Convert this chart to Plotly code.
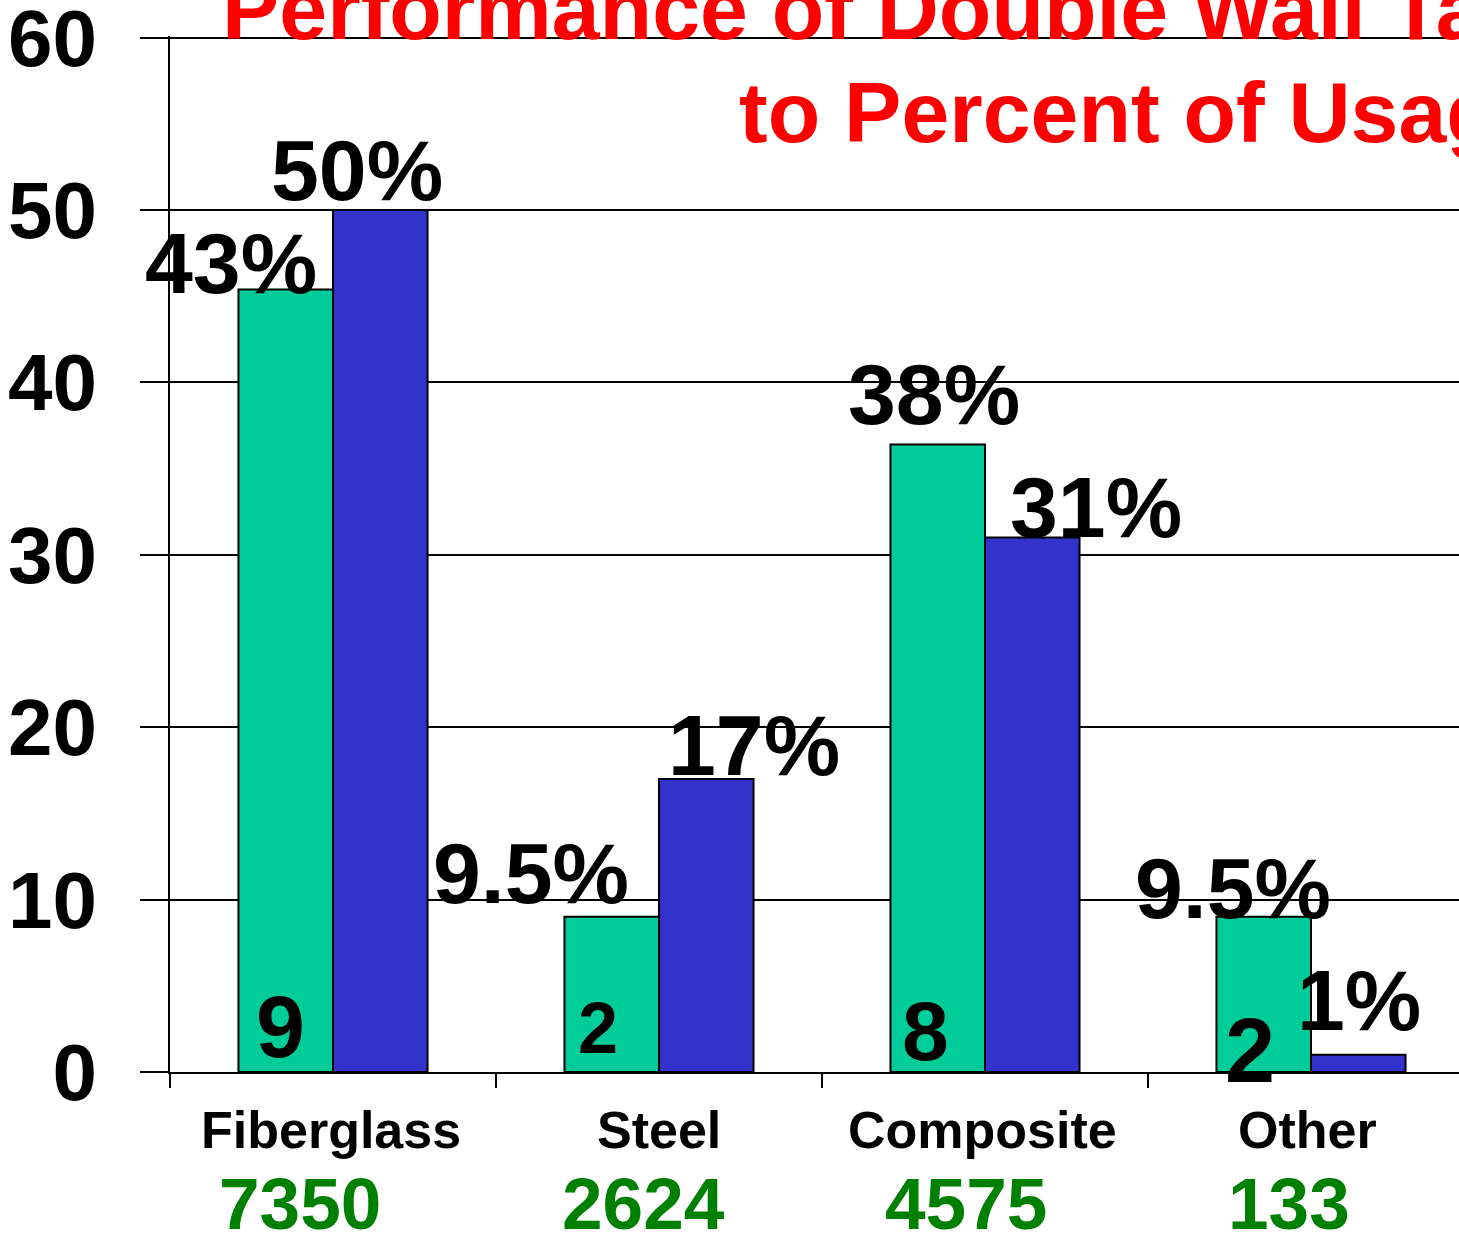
import plotly.graph_objects as go

# ---------------- data ----------------
categories = ["Fiberglass", "Steel", "Composite", "Other"]
usage_counts = ["7350", "2624", "4575", "133"]
usage_pct = [45.4, 9.0, 36.4, 9.0]            # green bars
usage_labels = ["43%", "9.5%", "38%", "9.5%"]
perf_pct = [50.0, 17.0, 31.0, 1.0]            # blue bars
perf_labels = ["50%", "17%", "31%", "1%"]
inside_counts = ["9", "2", "8", "2"]
y_ticks = [0, 10, 20, 30, 40, 50, 60]
title_lines = ["Performance of Double Wall Tanks Relative", "to Percent of Usage"]

# ---------------- style / layout ----------------
FONT = "Liberation Sans, Arial, Helvetica, sans-serif"
GREEN = "#00CC99"
BLUE = "#3333CC"
W, H = 1459, 1234
L, T, B = 170, 36, 162
plot_w = W - L
plot_h = H - T - B
cat_px = 326.0
x_range = [-0.5, -0.5 + plot_w / cat_px]
y_range = [0, 60.1]

fig = go.Figure()
fig.add_trace(go.Bar(x=categories, y=usage_pct, name="Percent of Usage",
                     marker=dict(color=GREEN, line=dict(color="black", width=2))))
fig.add_trace(go.Bar(x=categories, y=perf_pct, name="Percent of Performance",
                     marker=dict(color=BLUE, line=dict(color="black", width=2))))

ann = []
half = 0.145
# label offsets (dx, dy, size) for green, blue and inside labels
g_off = [(-0.168, 1.55, 86), (-0.248, 2.55, 86), (-0.011, 2.95, 86), (-0.094, 1.7, 86)]
b_off = [(-0.071, 2.3, 86), (0.146, 1.95, 86), (0.195, 1.75, 86), (0.002, 3.15, 86)]
in_off = [(-0.016, 2.65, 88), (-0.043, 2.55, 72), (-0.036, 2.35, 84), (-0.043, 1.2, 90)]
name_dx = [-0.006, 0.0, -0.009, -0.012]
count_dx = [-0.1, -0.048, -0.057, -0.067]


def py(screen_y):
    return (H - B - screen_y) / plot_h


def px(screen_x):
    return (screen_x - L) / plot_w


for i in range(len(categories)):
    dx, dy, s = g_off[i]
    ann.append(dict(x=i - half + dx, y=usage_pct[i] + dy, xref="x", yref="y",
                    text=usage_labels[i], showarrow=False,
                    font=dict(family=FONT, size=s, color="black", weight="bold")))
    dx, dy, s = b_off[i]
    ann.append(dict(x=i + half + dx, y=perf_pct[i] + dy, xref="x", yref="y",
                    text=perf_labels[i], showarrow=False,
                    font=dict(family=FONT, size=s, color="black", weight="bold")))
    dx, dy, s = in_off[i]
    ann.append(dict(x=i - half + dx, y=dy, xref="x", yref="y",
                    text=inside_counts[i], showarrow=False,
                    font=dict(family=FONT, size=s, color="black", weight="bold")))
    # category label and usage count below the axis
    ann.append(dict(x=i + name_dx[i], y=py(1130), xref="x", yref="paper",
                    xanchor="center", yanchor="middle",
                    text=categories[i], showarrow=False,
                    font=dict(family=FONT, size=52, color="black", weight="bold")))
    ann.append(dict(x=i + count_dx[i], y=py(1203), xref="x", yref="paper",
                    xanchor="center", yanchor="middle",
                    text=usage_counts[i], showarrow=False,
                    font=dict(family=FONT, size=73, color="#008000", weight="bold")))

# title lines (clipped at the right edge as in the original)
ann.append(dict(x=px(220), y=py(9), xref="paper", yref="paper",
                xanchor="left", yanchor="middle", text=title_lines[0], showarrow=False,
                font=dict(family=FONT, size=86, color="red", weight="bold")))
ann.append(dict(x=px(737), y=py(112), xref="paper", yref="paper",
                xanchor="left", yanchor="middle", text=title_lines[1], showarrow=False,
                font=dict(family=FONT, size=86, color="red", weight="bold")))

fig.update_layout(
    width=W, height=H,
    margin=dict(l=L, r=0, t=T, b=B, pad=0, autoexpand=False),
    paper_bgcolor="white", plot_bgcolor="white",
    barmode="group", bargap=0.42, bargroupgap=0,
    showlegend=False,
    annotations=ann,
    font=dict(family=FONT, color="black"),
)
fig.update_xaxes(range=x_range, showline=True, linecolor="black", linewidth=2,
                 ticks="outside", tickson="boundaries", ticklen=14, tickwidth=2,
                 tickcolor="black", showticklabels=False, showgrid=False, zeroline=False,
                 automargin=False)
fig.update_yaxes(range=y_range, tickvals=y_ticks, showline=True, linecolor="black",
                 linewidth=2, ticks="outside", ticklen=28, tickwidth=2, tickcolor="black",
                 showgrid=True, gridcolor="black", gridwidth=1.5, zeroline=False,
                 ticklabelstandoff=27, ticklabeloverflow="allow", automargin=False,
                 tickfont=dict(family=FONT, size=80, color="black", weight="bold"))

fig.write_html(
    "out.html",
    config={"displayModeBar": False},
    post_script="document.body.style.margin='0';document.body.style.overflow='hidden';",
)
